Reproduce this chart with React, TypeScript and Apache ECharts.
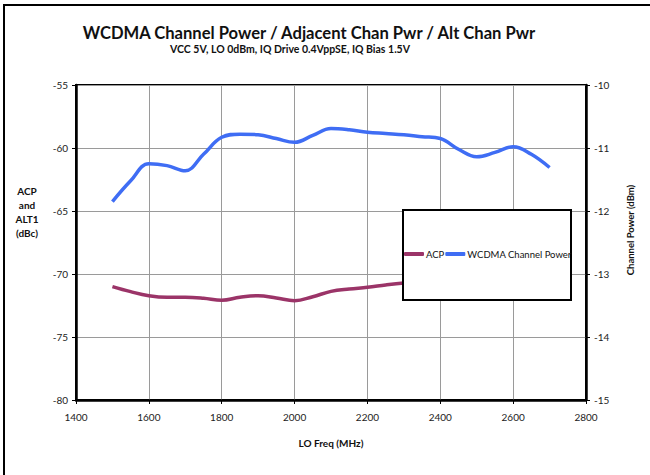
import React, { useEffect, useRef } from "react";
import * as echarts from "echarts";

const freqs = [1500, 1550, 1600, 1650, 1700, 1750, 1800, 1850, 1900, 1950, 2000, 2050, 2100, 2150, 2200, 2250, 2300, 2350, 2400, 2450, 2500, 2550, 2600, 2650, 2700];
const acp = [-71.0, -71.4, -71.72, -71.85, -71.85, -71.93, -72.09, -71.85, -71.72, -71.9, -72.12, -71.8, -71.38, -71.19, -71.06, -70.87, -70.71, -70.6, -70.5, -70.45, -70.4, -70.4, -70.35, -70.35, -70.3];
const chanPower = [-11.85, -11.52, -11.25, -11.28, -11.36, -11.1, -10.83, -10.78, -10.79, -10.85, -10.91, -10.8, -10.69, -10.71, -10.75, -10.77, -10.79, -10.82, -10.85, -11.02, -11.14, -11.07, -10.98, -11.1, -11.31];

const title = "WCDMA Channel Power / Adjacent Chan Pwr / Alt Chan Pwr";
const subtitle = "VCC 5V, LO 0dBm, IQ Drive 0.4VppSE, IQ Bias 1.5V";
const xName = "LO Freq (MHz)";
const leftName = "ACP\nand\nALT1\n(dBc)";
const rightName = "Channel Power (dBm)";
const seriesNames = ["ACP", "WCDMA Channel Power"];

const FONT = "Lato, 'Open Sans', sans-serif";

export default function App() {
  const ref = useRef<HTMLDivElement>(null);
  useEffect(() => {
    if (!ref.current) return;
    const chart = echarts.init(ref.current, undefined, { renderer: "svg" });
    const gridColor = "#9a9a9a";
    const axisCommon = {
      axisLine: { show: true, lineStyle: { color: "#000", width: 2.5 } },
      axisTick: { show: true, inside: false, length: 4, lineStyle: { color: "#000", width: 1 } },
    };
    chart.setOption({
      animation: false,
      backgroundColor: "#fff",
      textStyle: { fontFamily: FONT },
      grid: { left: 76, right: 64, top: 85, bottom: 75, show: true, borderColor: "#000", borderWidth: 2, backgroundColor: "transparent" },
      xAxis: {
        type: "value", min: 1400, max: 2800, interval: 200,
        ...axisCommon,
        axisLabel: { color: "#222", fontSize: 10, fontFamily: FONT, margin: 12, formatter: (v: number) => String(v) },
        splitLine: { show: true, lineStyle: { color: gridColor, width: 1 } },
      },
      yAxis: [
        {
          type: "value", min: -80, max: -55, interval: 5,
          ...axisCommon,
          axisLabel: { color: "#222", fontSize: 10, fontFamily: FONT, margin: 8 },
          splitLine: { show: true, lineStyle: { color: gridColor, width: 1 } },
        },
        {
          type: "value", min: -15, max: -10, interval: 1, position: "right",
          ...axisCommon,
          axisLabel: { color: "#222", fontSize: 10, fontFamily: FONT, margin: 8 },
          splitLine: { show: false },
        },
      ],
      legend: {
        left: 404, top: 249, orient: "horizontal",
        itemWidth: 20, itemHeight: 4, itemGap: 1,
        icon: "roundRect",
        z: 60,
        padding: 0,
        textStyle: { color: "#111", fontSize: 9.5, fontFamily: FONT, padding: [0, 0, 0, -3] },
        data: seriesNames,
      },
      graphic: [
        { type: "rect", shape: { x: 4, y: 5, width: 700, height: 520 }, style: { fill: "none", stroke: "#000", lineWidth: 2 }, z: 1, silent: true },
        { type: "rect", shape: { x: 403, y: 210, width: 168, height: 90 }, style: { fill: "#fff", stroke: "#000", lineWidth: 2 }, z: 50, silent: true },
        { type: "text", x: 309, y: 33, style: { text: title, font: `bold 16.6px ${FONT}`, fill: "#111", align: "center", verticalAlign: "middle" }, z: 60 },
        { type: "text", x: 290, y: 49, style: { text: subtitle, font: `bold 10.5px ${FONT}`, fill: "#111", align: "center", verticalAlign: "middle" }, z: 60 },
        { type: "text", x: 331, y: 443, style: { text: xName, font: `bold 10px ${FONT}`, fill: "#111", align: "center", verticalAlign: "middle" }, z: 60 },
        { type: "text", x: 27, y: 212, style: { text: leftName, font: `bold 10px ${FONT}`, fill: "#111", align: "center", verticalAlign: "middle", lineHeight: 14 }, z: 60 },
        { type: "text", x: 630, y: 230, rotation: Math.PI / 2, style: { text: rightName, font: `bold 9.5px ${FONT}`, fill: "#111", align: "center", verticalAlign: "middle" }, z: 60 },
      ],
      series: [
        {
          name: seriesNames[0], type: "line", yAxisIndex: 0, smooth: 0.4, showSymbol: false, symbol: "none",
          data: freqs.map((f, i) => [f, acp[i]]),
          lineStyle: { color: "#9B3468", width: 3.5 }, itemStyle: { color: "#9B3468" }, z: 3,
        },
        {
          name: seriesNames[1], type: "line", yAxisIndex: 1, smooth: 0.4, showSymbol: false, symbol: "none",
          data: freqs.map((f, i) => [f, chanPower[i]]),
          lineStyle: { color: "#3F6DF4", width: 3.5 }, itemStyle: { color: "#3F6DF4" }, z: 3,
        },
      ],
    });
    return () => chart.dispose();
  }, []);
  return <div ref={ref} style={{ position: "fixed", left: 0, top: 0, width: 650, height: 475 }} />;
}
